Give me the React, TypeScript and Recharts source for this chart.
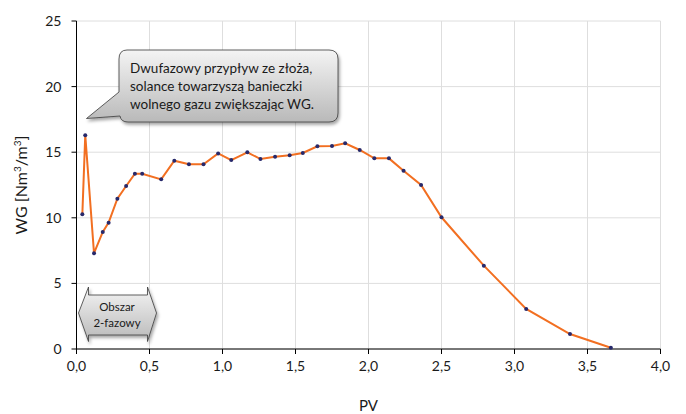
import { CartesianGrid, Customized, Line, LineChart, XAxis, YAxis } from "recharts";

const pvValues = [
  0.04, 0.06, 0.12, 0.18, 0.22, 0.28, 0.34, 0.4, 0.45, 0.58, 0.67, 0.77, 0.87, 0.97, 1.06, 1.17,
  1.26, 1.36, 1.46, 1.55, 1.65, 1.75, 1.84, 1.94, 2.04, 2.14, 2.24, 2.36, 2.5, 2.79, 3.08, 3.38, 3.66,
];
const wgValues = [
  10.27, 16.3, 7.3, 8.92, 9.63, 11.46, 12.42, 13.36, 13.36, 12.93, 14.35, 14.08, 14.08, 14.91, 14.4,
  14.99, 14.48, 14.66, 14.76, 14.94, 15.45, 15.47, 15.68, 15.17, 14.53, 14.53, 13.59, 12.5, 10.04,
  6.35, 3.05, 1.14, 0.1,
];
const xTicks = [0, 0.5, 1, 1.5, 2, 2.5, 3, 3.5, 4];
const yTicks = [0, 5, 10, 15, 20, 25];

const data = pvValues.map((pv, i) => ({ pv, wg: wgValues[i] }));

const FONT = "Lato, 'Open Sans', sans-serif";
const fmt = (v: number) => v.toFixed(1).replace(".", ",");

function Callouts() {
  // speech bubble with tail pointing at the early two-phase spike
  const bubble =
    "M127,50 L329,50 Q338,50 338,59 L338,113 Q338,122 329,122 L128,122 Q121,122 120,116 L86.5,118.5 L119,92 L119,59 Q119,50 127,50 Z";
  const arrow =
    "M78.5,313 L88.5,287 L88.5,295 L147.5,295 L147.5,287 L156.5,313 L147.5,341.5 L147.5,335 L88.5,335 L88.5,341.5 Z";
  return (
    <g fontFamily={FONT}>
      <defs>
        <linearGradient id="grayFill" x1="0" y1="0" x2="0" y2="1">
          <stop offset="0%" stopColor="#f4f4f4" />
          <stop offset="100%" stopColor="#b9b9b9" />
        </linearGradient>
        <filter id="shadow" x="-20%" y="-20%" width="140%" height="150%">
          <feDropShadow dx="1.5" dy="2.5" stdDeviation="1.5" floodColor="#000" floodOpacity="0.35" />
        </filter>
      </defs>
      <path d={bubble} fill="url(#grayFill)" stroke="#3a3a3a" strokeWidth={0.8} filter="url(#shadow)" />
      <text x={130} y={73} fontSize={13.5} fill="#1a1a1a">Dwufazowy przypływ ze złoża,</text>
      <text x={130} y={91} fontSize={13.5} fill="#1a1a1a">solance towarzyszą banieczki</text>
      <text x={130} y={109} fontSize={13.5} fill="#1a1a1a">wolnego gazu zwiększając WG.</text>
      <path d={arrow} fill="url(#grayFill)" stroke="#3a3a3a" strokeWidth={0.8} filter="url(#shadow)" />
      <text x={117} y={311} fontSize={11.5} textAnchor="middle" fill="#1a1a1a">Obszar</text>
      <text x={117} y={327} fontSize={11.5} textAnchor="middle" fill="#1a1a1a">2-fazowy</text>
    </g>
  );
}

export default function App() {
  return (
    <div style={{ position: "absolute", left: 0, top: 0, background: "#fff" }}>
      <LineChart width={686} height={414} data={data} margin={{ top: 21, right: 25.5, bottom: 25, left: 26.5 }}>
        <CartesianGrid stroke="#dedede" strokeWidth={1} />
        <XAxis
          dataKey="pv"
          type="number"
          domain={[0, 4]}
          ticks={xTicks}
          tickFormatter={fmt}
          height={40}
          tickSize={5}
          tickMargin={7}
          stroke="#000"
          tick={{ fill: "#1a1a1a", fontSize: 14, fontFamily: FONT }}
          label={{ value: "PV", position: "insideBottom", offset: -22, fill: "#1a1a1a", fontSize: 15, fontFamily: FONT }}
        />
        <YAxis
          type="number"
          domain={[0, 25]}
          ticks={yTicks}
          width={50}
          tickSize={5}
          tickMargin={10}
          stroke="#000"
          tick={{ fill: "#1a1a1a", fontSize: 14, fontFamily: FONT }}
          label={{
            content: () => (
              <text x={27} y={185} transform="rotate(-90 27 185)" textAnchor="middle" fontSize={16} fontFamily={FONT} fill="#1a1a1a">
                WG [Nm<tspan fontSize={10} dy={-6}>3</tspan>
                <tspan dy={6}>/m</tspan>
                <tspan fontSize={10} dy={-6}>3</tspan>
                <tspan dy={6}>]</tspan>
              </text>
            ),
          }}
        />
        <Line
          type="linear"
          dataKey="wg"
          stroke="#f26f21"
          strokeWidth={2}
          dot={{ r: 2, fill: "#27296b", stroke: "none" }}
          isAnimationActive={false}
        />
        <Customized component={Callouts} />
      </LineChart>
    </div>
  );
}
